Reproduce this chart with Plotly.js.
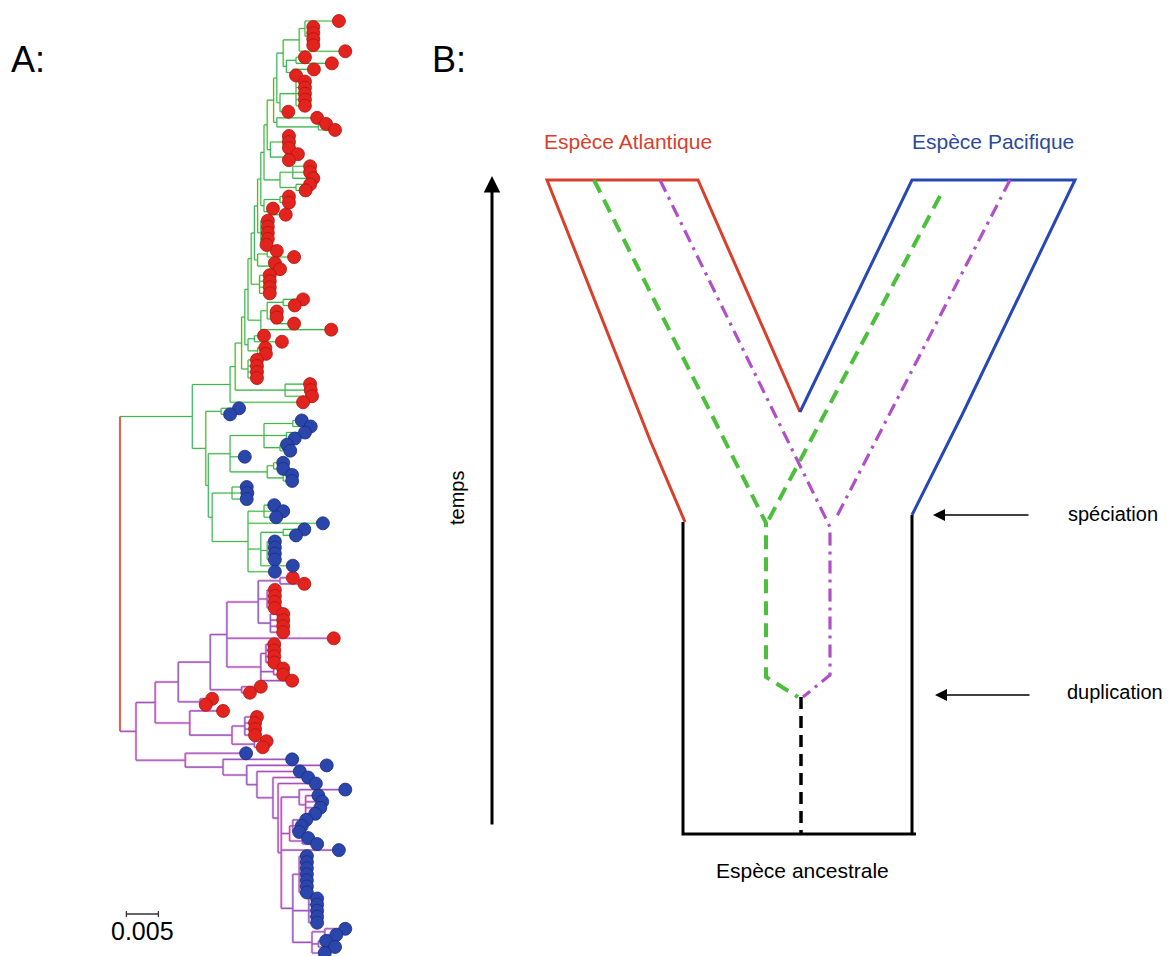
<!DOCTYPE html>
<html><head><meta charset="utf-8">
<script src="https://cdn.plot.ly/plotly-3.0.1.min.js"></script>
<style>html,body{margin:0;padding:0;background:#fff}#chart{width:1171px;height:956px}</style>
</head><body><div id="chart"></div>
<script>
// ================= Panel A : phylogeny =================
// Newick-style strings. R = Atlantic (red) sequence, B = Pacific (blue) sequence.
// Number after ':' = distance of that node from the root (x 10^-3 substitutions/site).

// Atlantic clade (green branches), groups top -> bottom, joined along a ladder
const atlanticGroups = [
  "((R:34.2,(R:30.2,R:30.2,R:30.2,R:30.2):29.5):28.9,R:35.2):28.0",
  "((R:28.9,R:33.1):27.5,(R:30.3,R:27.5):27.0):26.0",
  "((R:28.9,R:28.9,R:28.9,R:28.9,R:28.9):27.5,R:26.3):25.0",
  "(R:30.8,(R:32.2,R:33.6):31.0):24.5",
  "((R:26.4,R:26.4,R:26.4):25.5,(R:27.8,R:26.4):25.8):23.5",
  "((R:29.7,R:29.7,R:30.2):27.0,(R:29.7,R:29.0):27.5):25.0",
  "((R:26.4,R:26.4):25.0,(R:23.9,R:25.9):23.5):22.5",
  "(R:23.1,R:23.1,R:23.1,R:23.1,R:22.9):22.0",
  "((R:24.5,R:27.2):23.0,(R:24.2,R:25.0):23.5):21.5",
  "(R:23.4,R:23.4,R:23.4,R:23.4):21.8",
  "(((R:28.6,R:27.3):25.5,((R:24.5,R:24.5):23.5,R:27.2):24.0):23.0,R:33.0):22.0",
  "((R:22.5,R:25.3):21.0,(R:22.7,R:22.8):21.5):20.0",
  "(R:21.4,R:21.4,R:21.4,R:21.4):20.0",
  "(R:29.7,R:29.8,R:30.0):25.8",
  "R:28.6"
];
const atlanticSpine = [25.5, 24.5, 24.0, 23.0, 22.5, 22.0, 21.5, 21.0, 20.5, 20.0, 19.5, 19.0, 18.0, 17.2];

// Pacific sequences inside the green clade
const pacGreen1 = "(B:18.6,B:17.2):15.8";
const pacGreen2 = "(((B:28.4,B:29.8):27.0,(B:28.9,B:27.3):26.0,(B:26.1,B:26.6):25.0):22.5,B:19.5,((B:25.5,B:25.5):24.0,(B:26.9,B:26.9):25.5):23.0):17.2";
const pacGreen3 = "((B:19.8,B:19.9,B:19.8):17.5,((B:24.1,B:25.5,B:24.4):22.5,B:31.7,((B:28.8,B:27.5):25.5,(B:24.2,B:24.2,B:24.2,B:24.2):23.0,B:27.0):22.0,B:24.2):20.0):14.4";

// Pink clade, Atlantic part
const pinkAtl1 = "(((R:27.0,R:28.8):25.0,(R:24.2,R:24.2,R:24.2,R:24.2):23.0,(R:25.5,R:25.5,R:25.5,R:25.5):23.5):21.6,R:33.4,((R:24.1,R:24.1,R:24.1,R:24.1):22.8,(R:25.5,R:25.5):24.0,R:26.9):22.0):16.7";
const pinkAtl2 = "(R:22.0,R:20.3):19.0";
const pinkAtl3 = "(R:14.4,R:13.4):12.5";
const pinkAtl4 = "R:16.1";
const pinkAtl5 = "((R:21.4,R:21.1,R:21.1,R:21.1):19.5,(R:22.9,R:22.3):21.0):17.5";

// Pink clade, Pacific part: ladder leaves + crown group
const pinkPacLadderLeaves = ["B:26.9", "B:32.3", "B:28.1", "B:29.4", "B:30.6"];
const pinkPacLadderDepths = [16.1, 19.8, 21.4, 23.9, 24.7];
const pinkPacCrown = "((B:35.2,(B:31.0,B:31.6,B:31.3,B:30.5):29.0):28.0,((B:29.1,B:28.4,B:28.0):27.0,(B:29.4,B:30.8):28.5):26.5,B:34.2,((B:29.2,B:29.2,B:29.2,B:29.2,B:29.2,B:29.2,B:29.2):28.0,(B:30.8,B:30.8,B:30.8,B:30.8,B:30.8):29.5,((B:35.2,B:33.8):32.0,(B:32.2,B:33.6):31.0,B:32.0):30.0):27.0):25.2";

// Backbone of the tree (G = green clade, P = pink clade)
const backbone = "(({ATL},({PG1},({PG2},{PG3}):13.8):13.4)G:11.3,(((({PA1},{PA2}):14.1,{PA3}):9.1,({PA4},{PA5}):10.9):5.5,(B:19.7,{PPAC}):10.2)P:2.5)ROOT:0";

const scaleBarLength = 5;   // = 0.005 subst./site
const scaleBarLabel = "0.005";

// ================= Panel B : schematic (diagram units) =================
const atlanticX = [685, 650, 547, 698, 800], atlanticY = [522, 440, 180, 180, 412];
const pacificX  = [800, 912, 1075, 962, 912], pacificY = [412, 180, 180, 415, 515];
const ancestralX = [683, 683, 916, null, 912, 912], ancestralY = [522, 834, 834, null, 834, 515];
const ancestralGeneX = [801, 801], ancestralGeneY = [697, 834];
const greenGeneX = [594, 766, 766, 798], greenGeneY = [180, 523, 677, 697];
const greenGeneRX = [940, 768], greenGeneRY = [196, 521];
const purpleGeneX = [660, 830, 830, 803], purpleGeneY = [180, 527, 675, 697];
const purpleGeneRX = [1010, 836], purpleGeneRY = [180, 518];

// ---------- build tree ----------
let atl = atlanticGroups[0];
for (let k = 1; k < atlanticGroups.length; k++) {
  atl = "(" + atl + "," + atlanticGroups[k] + "):" + atlanticSpine[k - 1];
}
let ppac = pinkPacCrown;
for (let k = pinkPacLadderLeaves.length - 1; k >= 0; k--) {
  ppac = "(" + pinkPacLadderLeaves[k] + "," + ppac + "):" + pinkPacLadderDepths[k];
}
const nwk = backbone.replace("{ATL}", atl).replace("{PG1}", pacGreen1).replace("{PG2}", pacGreen2)
  .replace("{PG3}", pacGreen3).replace("{PA1}", pinkAtl1).replace("{PA2}", pinkAtl2)
  .replace("{PA3}", pinkAtl3).replace("{PA4}", pinkAtl4).replace("{PA5}", pinkAtl5)
  .replace("{PPAC}", ppac);

function parse(s) {
  s = s.replace(/\s+/g, ""); let i = 0;
  function node() {
    const n = {children: [], label: "", depth: 0};
    if (s[i] === "(") {
      i++; n.children.push(node());
      while (s[i] === ",") { i++; n.children.push(node()); }
      i++;
    }
    let lab = ""; while (i < s.length && ":,);".indexOf(s[i]) < 0) lab += s[i++];
    n.label = lab;
    if (s[i] === ":") { i++; let num = ""; while (i < s.length && ",);".indexOf(s[i]) < 0) num += s[i++]; n.depth = parseFloat(num); }
    return n;
  }
  return node();
}
const root = parse(nwk);
let leafIdx = 0;
const leaves = [];
function layoutNode(n, clade) {
  if (n.label === "G") clade = "green"; else if (n.label === "P") clade = "pink"; else if (n.label === "ROOT") clade = "root";
  n.clade = clade;
  if (n.children.length === 0) { n.y = leafIdx++; leaves.push(n); }
  else {
    n.children.forEach(c => layoutNode(c, clade));
    n.y = (n.children[0].y + n.children[n.children.length - 1].y) / 2;
  }
}
layoutNode(root, "root");
const segs = {green: {x: [], y: []}, pink: {x: [], y: []}, root: {x: [], y: []}};
function collect(n) {
  if (n.children.length) {
    const a = n.children[0].y, b = n.children[n.children.length - 1].y;
    segs[n.clade].x.push(n.depth, n.depth, null); segs[n.clade].y.push(a, b, null);
    n.children.forEach(c => {
      segs[c.clade].x.push(n.depth, c.depth, null); segs[c.clade].y.push(c.y, c.y, null);
      collect(c);
    });
  }
}
collect(root);

const nLeaves = leaves.length;
const W = 1171, H = 956;
const pxPerUnit = 6.4, rootPx = 120, firstLeafPx = 21, lastLeafPx = 953;
const leafStep = (lastLeafPx - firstLeafPx) / (nLeaves - 1);
const splitA = 0.34;

const traces = [];
const styles = {
  green: [{c: "rgba(215,230,130,0.45)", w: 2.4}, {c: "#35b566", w: 1.1}],
  pink:  [{c: "rgba(240,130,190,0.7)", w: 2.4}, {c: "#8a5cc8", w: 1.1}],
  root:  [{c: "rgba(240,150,120,0.6)", w: 2.4}, {c: "#b43220", w: 1.2}]
};
["green", "pink", "root"].forEach(k => styles[k].forEach(st => traces.push({
  type: "scatter", mode: "lines", x: segs[k].x, y: segs[k].y, xaxis: "x", yaxis: "y",
  line: {color: st.c, width: st.w}, hoverinfo: "skip", showlegend: false
})));
const red = leaves.filter(l => l.label === "R"), blue = leaves.filter(l => l.label === "B");
traces.push({type: "scatter", mode: "markers", x: red.map(l => l.depth), y: red.map(l => l.y), xaxis: "x", yaxis: "y",
  marker: {size: 13, color: "#e3231d", line: {color: "#b0140f", width: 0.8}}, showlegend: false, hoverinfo: "skip"});
traces.push({type: "scatter", mode: "markers", x: blue.map(l => l.depth), y: blue.map(l => l.y), xaxis: "x", yaxis: "y",
  marker: {size: 13, color: "#2a46aa", line: {color: "#1a2c82", width: 0.8}}, showlegend: false, hoverinfo: "skip"});

// ---------- panel B traces ----------
function lineTrace(x, y, color, width, dash) {
  return {type: "scatter", mode: "lines", x: x, y: y, xaxis: "x2", yaxis: "y2",
    line: {color: color, width: width, dash: dash || "solid"}, hoverinfo: "skip", showlegend: false, connectgaps: false};
}
traces.push(lineTrace(ancestralX, ancestralY, "#000000", 3));
traces.push(lineTrace(ancestralGeneX, ancestralGeneY, "#000000", 3.5, "12px,7px"));
traces.push(lineTrace(atlanticX, atlanticY, "#d8402c", 3));
traces.push(lineTrace(pacificX, pacificY, "#2748b4", 3));
traces.push(lineTrace(greenGeneX, greenGeneY, "#4cc03c", 4, "14px,8px"));
traces.push(lineTrace(greenGeneRX, greenGeneRY, "#4cc03c", 4, "14px,8px"));
traces.push(lineTrace(purpleGeneX, purpleGeneY, "#b050c8", 3.2, "13px,6px,3px,6px"));
traces.push(lineTrace(purpleGeneRX, purpleGeneRY, "#b050c8", 3.2, "13px,6px,3px,6px"));

const font = "Liberation Sans, Arial, Helvetica, sans-serif";
const ann = [];
ann.push({xref: "paper", yref: "paper", x: 9 / W, y: 1 - 59 / H, xanchor: "left", yanchor: "middle", text: "A:", showarrow: false, font: {family: font, size: 36, color: "#000"}});
ann.push({xref: "paper", yref: "paper", x: 430 / W, y: 1 - 59 / H, xanchor: "left", yanchor: "middle", text: "B:", showarrow: false, font: {family: font, size: 36, color: "#000"}});
ann.push({xref: "x", yref: "paper", x: 1 + scaleBarLength / 2, y: 1 - 931 / H, text: scaleBarLabel, showarrow: false, xanchor: "center", yanchor: "middle", font: {family: font, size: 25, color: "#000"}});
ann.push({xref: "x2", yref: "y2", x: 628, y: 141, text: "Espèce Atlantique", showarrow: false, font: {family: font, size: 21, color: "#d6402e"}});
ann.push({xref: "x2", yref: "y2", x: 993, y: 141, text: "Espèce Pacifique", showarrow: false, font: {family: font, size: 21, color: "#2d4a98"}});
ann.push({xref: "x2", yref: "y2", x: 457, y: 498, text: "temps", textangle: -90, showarrow: false, font: {family: font, size: 20, color: "#000"}});
ann.push({xref: "x2", yref: "y2", x: 1066, y: 514, xanchor: "left", text: "spéciation", showarrow: false, font: {family: font, size: 20, color: "#000"}});
ann.push({xref: "x2", yref: "y2", x: 1065, y: 692, xanchor: "left", text: "duplication", showarrow: false, font: {family: font, size: 20, color: "#000"}});
ann.push({xref: "x2", yref: "y2", x: 802, y: 870, text: "Espèce ancestrale", showarrow: false, font: {family: font, size: 21, color: "#000"}});
// arrows
ann.push({xref: "x2", yref: "y2", axref: "x2", ayref: "y2", x: 492, y: 176, ax: 492, ay: 826, text: "", showarrow: true, arrowhead: 2, arrowsize: 1.1, arrowwidth: 3, arrowcolor: "#000"});
ann.push({xref: "x2", yref: "y2", axref: "x2", ayref: "y2", x: 933, y: 515, ax: 1030, ay: 515, text: "", showarrow: true, arrowhead: 2, arrowsize: 1.6, arrowwidth: 1.5, arrowcolor: "#000"});
ann.push({xref: "x2", yref: "y2", axref: "x2", ayref: "y2", x: 935, y: 695, ax: 1031, ay: 695, text: "", showarrow: true, arrowhead: 2, arrowsize: 1.6, arrowwidth: 1.5, arrowcolor: "#000"});

const sbY = 1 - 914 / H, tk = 3 / H;
const shapes = [
  {type: "line", xref: "x", yref: "paper", x0: 1, x1: 1 + scaleBarLength, y0: sbY, y1: sbY, line: {color: "#333", width: 1.3}},
  {type: "line", xref: "x", yref: "paper", x0: 1, x1: 1, y0: sbY - tk, y1: sbY + tk, line: {color: "#333", width: 1.3}},
  {type: "line", xref: "x", yref: "paper", x0: 1 + scaleBarLength, x1: 1 + scaleBarLength, y0: sbY - tk, y1: sbY + tk, line: {color: "#333", width: 1.3}}
];

const hid = {visible: false, showgrid: false, zeroline: false, fixedrange: true};
const layout = {
  width: W, height: H, margin: {l: 0, r: 0, t: 0, b: 0},
  paper_bgcolor: "#fff", plot_bgcolor: "rgba(0,0,0,0)", showlegend: false,
  xaxis: Object.assign({}, hid, {domain: [0, splitA], range: [-rootPx / pxPerUnit, (splitA * W - rootPx) / pxPerUnit], anchor: "y"}),
  yaxis: Object.assign({}, hid, {domain: [0, 1], range: [(H - firstLeafPx) / leafStep, -firstLeafPx / leafStep], anchor: "x"}),
  xaxis2: Object.assign({}, hid, {domain: [splitA, 1], range: [splitA * W, W], anchor: "y2"}),
  yaxis2: Object.assign({}, hid, {domain: [0, 1], range: [H, 0], anchor: "x2"}),
  annotations: ann, shapes: shapes
};
Plotly.newPlot("chart", traces, layout, {staticPlot: true, displayModeBar: false});
</script></body></html>
